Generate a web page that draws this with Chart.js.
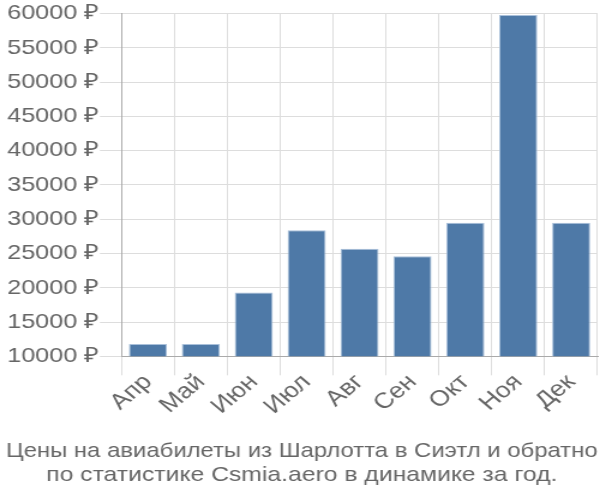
<!DOCTYPE html>
<html><head><meta charset="utf-8">
<script src="https://cdn.jsdelivr.net/npm/chart.js@4/dist/chart.umd.min.js"></script>
<style>html,body{margin:0;padding:0;background:#fff;overflow:hidden}#wrap{width:500px;height:500px;transform:scaleX(1.2);transform-origin:0 0}</style>
</head><body><div id="wrap"><canvas id="c"></canvas></div>
<script>
const categories = ["Апр","Май","Июн","Июл","Авг","Сен","Окт","Ноя","Дек"];
const prices = [11800, 11800, 19300, 28400, 25700, 24600, 29500, 59800, 29500];
const yMin = 10000, yMax = 60000, yStep = 5000;
const titleLines = ["Цены на авиабилеты из Шарлотта в Сиэтл и обратно","по статистике Csmia.aero в динамике за год."];
const FONT = '"Liberation Sans", Arial, sans-serif';

new Chart(document.getElementById('c'), {
  type: 'bar',
  data: { labels: categories, datasets: [{ data: prices, backgroundColor: '#4e79a7', borderColor: '#a9c0da', borderWidth: 1 }] },
  options: {
    responsive: true, maintainAspectRatio: false, animation: false,
    layout: { padding: { left: 5, right: 2, top: 4, bottom: 6 } },
    plugins: {
      legend: { display: false },
      tooltip: { enabled: false },
      title: { display: true, position: 'bottom', text: titleLines, color: '#666',
        font: { family: FONT, size: 20.6, weight: 'normal' }, padding: { top: 25, bottom: 6 }, lineHeight: 1.35 }
    },
    scales: {
      x: { grid: { color: '#ddd', tickLength: 19, drawTicks: true }, border: { color: '#aaa' },
        ticks: { color: '#666', maxRotation: 45, minRotation: 45, padding: -6, font: { family: FONT, size: 22 } } },
      y: { min: yMin, max: yMax, grid: { color: '#ddd', tickLength: 18 }, border: { color: '#aaa' },
        ticks: { stepSize: yStep, color: '#666', padding: 1, font: { family: FONT, size: 21 },
          callback: v => v + ' ₽' } }
    }
  }
});
</script></body></html>
